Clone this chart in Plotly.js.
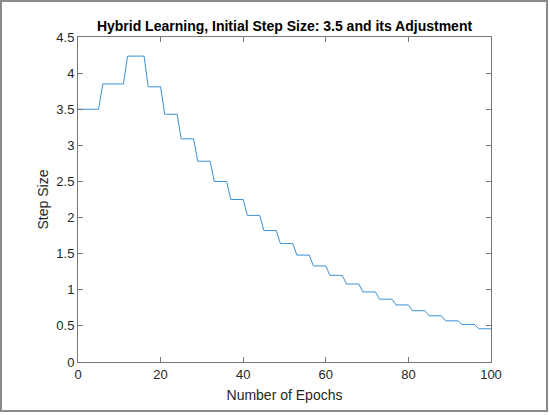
<!DOCTYPE html>
<html>
<head>
<meta charset="utf-8">
<script src="https://cdn.plot.ly/plotly-3.0.1.min.js"></script>
<style>
  html, body { margin: 0; padding: 0; background: #ffffff; }
  #wrap { position: relative; width: 550px; height: 415px; }
  #chart { position: absolute; left: 0; top: 0; width: 550px; height: 415px; }
  #frame { position: absolute; left: 0; top: 0; width: 548px; height: 412px; box-sizing: border-box;
           border: 2px solid #8a8a8a; pointer-events: none; }
</style>
</head>
<body>
<div id="wrap">
  <div id="chart"></div>
  <div id="frame"></div>
</div>
<script>
// Step size per epoch (epoch 0 .. 100)
const stepSize = [
  3.5, 3.5, 3.5, 3.5, 3.5, 3.5,
  3.85, 3.85, 3.85, 3.85, 3.85, 3.85,
  4.235, 4.235, 4.235, 4.235, 4.235,
  3.81, 3.81, 3.81, 3.81,
  3.43, 3.43, 3.43, 3.43,
  3.09, 3.09, 3.09, 3.09,
  2.78, 2.78, 2.78, 2.78,
  2.50, 2.50, 2.50, 2.50,
  2.25, 2.25, 2.25, 2.25,
  2.03, 2.03, 2.03, 2.03,
  1.82, 1.82, 1.82, 1.82,
  1.64, 1.64, 1.64, 1.64,
  1.48, 1.48, 1.48, 1.48,
  1.33, 1.33, 1.33, 1.33,
  1.20, 1.20, 1.20, 1.20,
  1.08, 1.08, 1.08, 1.08,
  0.97, 0.97, 0.97, 0.97,
  0.87, 0.87, 0.87, 0.87,
  0.79, 0.79, 0.79, 0.79,
  0.71, 0.71, 0.71, 0.71,
  0.64, 0.64, 0.64, 0.64,
  0.57, 0.57, 0.57, 0.57,
  0.52, 0.52, 0.52, 0.52,
  0.46, 0.46, 0.46, 0.46
];
const epochs = stepSize.map((v, i) => i);

const xTickVals = [0, 20, 40, 60, 80, 100];
const yTickVals = [0, 0.5, 1, 1.5, 2, 2.5, 3, 3.5, 4, 4.5];
const yTickText = ['0', '0.5', '1', '1.5', '2', '2.5', '3', '3.5', '4', '4.5'];

const chartTitle = 'Hybrid Learning, Initial Step Size: 3.5 and its Adjustment';
const xLabel = 'Number of Epochs';
const yLabel = 'Step Size';

const axisColor = '#777777';
const textColor = '#262626';
const fontFamily = 'Liberation Sans, Arial, Helvetica, sans-serif';

const trace = {
  x: epochs,
  y: stepSize,
  type: 'scatter',
  mode: 'lines',
  line: { color: 'rgb(60,145,212)', width: 1 },
  hoverinfo: 'skip'
};

const axisCommon = {
  showgrid: false,
  zeroline: false,
  showline: true,
  linecolor: axisColor,
  linewidth: 1,
  mirror: 'ticks',
  ticks: 'inside',
  ticklen: 5,
  tickwidth: 1,
  tickcolor: axisColor,
  tickfont: { family: fontFamily, size: 13, color: textColor }
};

const layout = {
  width: 550,
  height: 415,
  margin: { l: 78, r: 59, t: 37, b: 53 },
  paper_bgcolor: '#ffffff',
  plot_bgcolor: '#ffffff',
  showlegend: false,
  font: { family: fontFamily, color: textColor },
  title: {
    text: '<b>' + chartTitle + '</b>',
    font: { family: fontFamily, size: 14, color: '#000000' },
    x: 0.5, xref: 'paper', xanchor: 'center',
    y: 1 - 26 / 415, yref: 'container', yanchor: 'middle'
  },
  xaxis: Object.assign({}, axisCommon, {
    range: [0, 100],
    tickvals: xTickVals,
    title: { text: xLabel, font: { family: fontFamily, size: 14, color: textColor }, standoff: 9 }
  }),
  yaxis: Object.assign({}, axisCommon, {
    range: [0, 4.5],
    tickvals: yTickVals,
    ticktext: yTickText,
    title: { text: yLabel, font: { family: fontFamily, size: 14, color: textColor }, standoff: 4 }
  })
};

Plotly.newPlot('chart', [trace], layout, { staticPlot: true, displayModeBar: false });
</script>
</body>
</html>
